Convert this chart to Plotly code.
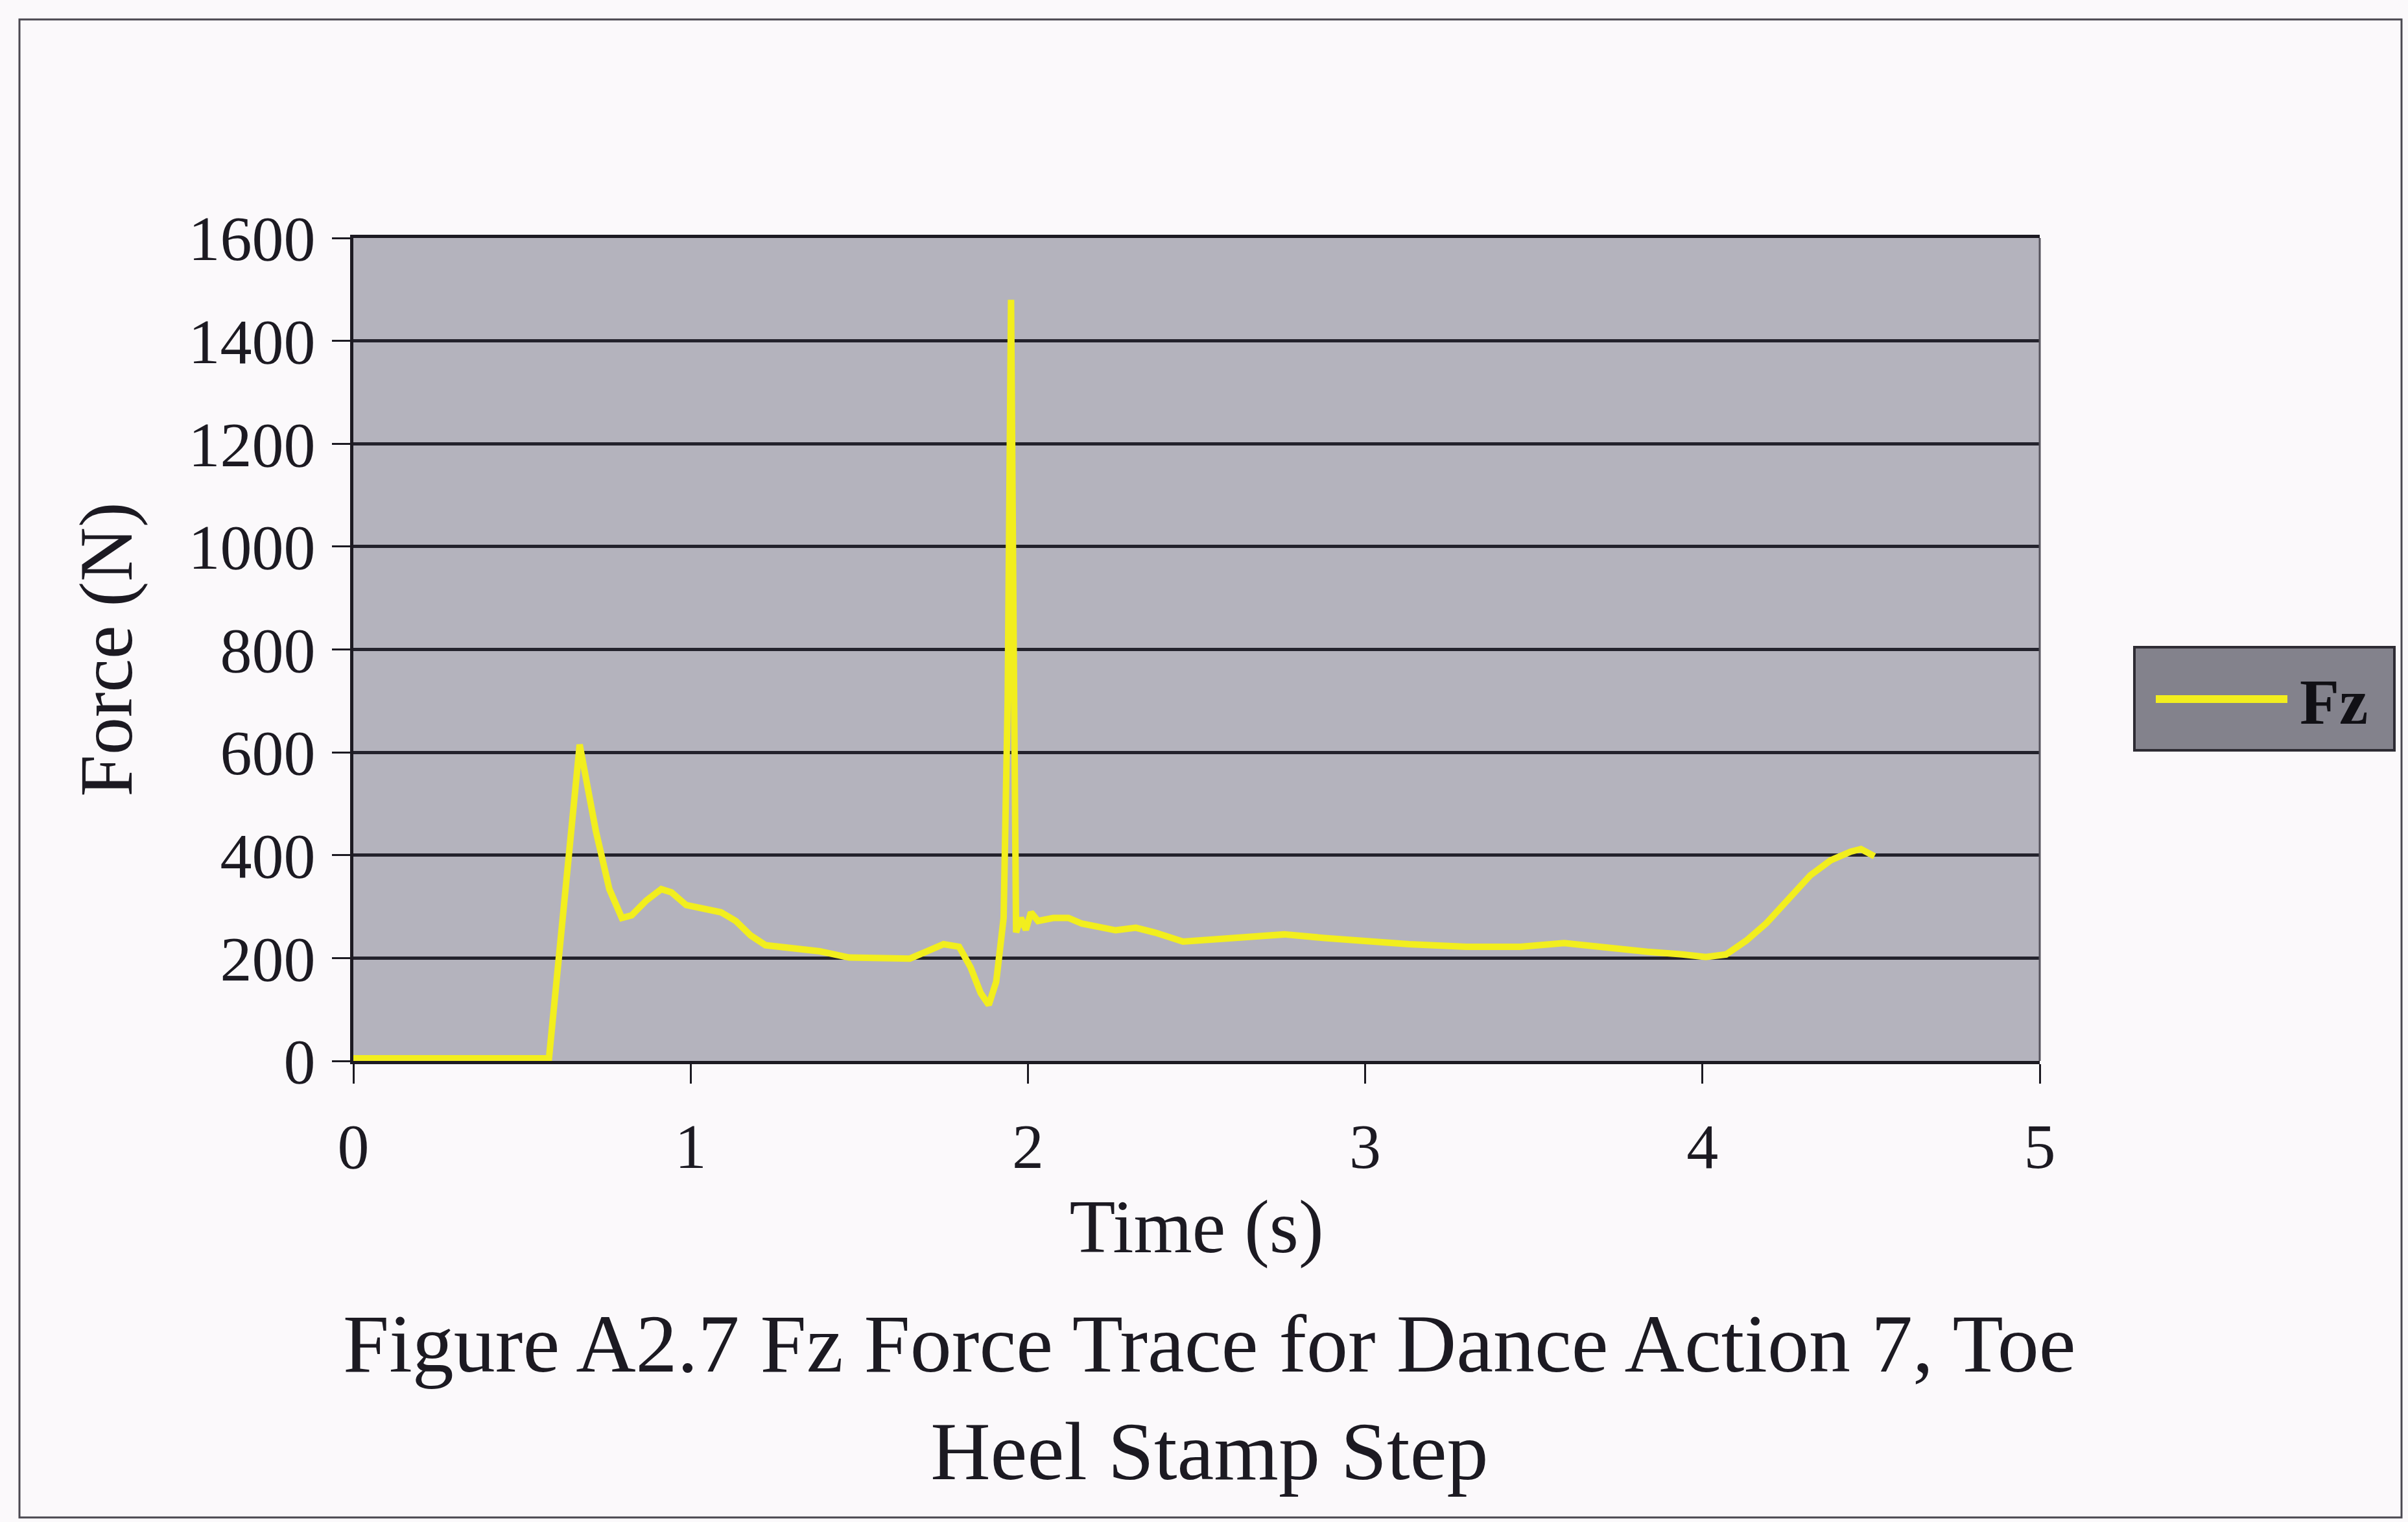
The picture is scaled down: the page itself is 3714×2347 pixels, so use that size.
import plotly.graph_objects as go

# ---- data ----
time_s = [0.0, 0.58, 0.671, 0.719, 0.759, 0.796, 0.825, 0.869, 0.913, 0.943, 0.987,
          1.046, 1.09, 1.134, 1.178, 1.222, 1.31, 1.384, 1.47, 1.56, 1.65, 1.70,
          1.75, 1.796, 1.83, 1.86, 1.884, 1.906, 1.928, 1.94, 1.95, 1.958, 1.965,
          1.979, 1.994, 2.009, 2.03, 2.075, 2.12, 2.16, 2.26, 2.32, 2.38, 2.46,
          2.55, 2.63, 2.76, 2.88, 3.01, 3.13, 3.30, 3.46, 3.59, 3.71, 3.84, 3.94,
          4.01, 4.07, 4.13, 4.19, 4.26, 4.32, 4.38, 4.44, 4.47, 4.51]
fz_n = [5, 5, 615, 447, 334, 278, 283, 312, 334, 328, 303,
        295, 289, 272, 244, 225, 219, 213, 201, 201, 199, 213,
        227, 222, 182, 132, 109, 154, 278, 700, 1480, 800, 250,
        278, 255, 289, 272, 278, 278, 267, 254, 259, 249, 232,
        237, 241, 246, 239, 232, 227, 222, 222, 229, 220, 212, 207,
        202, 207, 234, 268, 317, 361, 390, 407, 412, 398]
x_ticks = [0, 1, 2, 3, 4, 5]
y_ticks = [0, 200, 400, 600, 800, 1000, 1200, 1400, 1600]
series_name = "Fz"
x_title = "Time (s)"
y_title = "Force (N)"
caption_lines = ["Figure A2.7 Fz Force Trace for Dance Action 7, Toe", "Heel Stamp Step"]

# ---- layout geometry (pixels) ----
W, H = 3714, 2347
L, R, T, B = 545, 3146, 367, 1636
FONT = "Liberation Serif"
INK = "#1c1a22"


def px(xp):
    return (xp - L) / (R - L)


def py(yp):
    return (B - yp) / (B - T)


fig = go.Figure()
fig.add_trace(go.Scatter(x=time_s, y=fz_n, mode="lines", name=series_name,
                         line=dict(color="#f2ee1e", width=10), showlegend=False))

fig.update_layout(
    width=W, height=H,
    margin=dict(l=L, r=W - R, t=T, b=H - B, pad=0),
    paper_bgcolor="#fbf9fb",
    plot_bgcolor="#b4b3bd",
    font=dict(family=FONT, color=INK),
    xaxis=dict(range=[0, 5], tickvals=x_ticks, ticks="outside", ticklen=30,
               tickwidth=3, tickcolor=INK, showgrid=False, zeroline=False,
               showline=True, linecolor=INK, linewidth=5, mirror=True,
               tickfont=dict(size=98, family=FONT, color=INK),
               ticklabelstandoff=12,
               title=dict(text=x_title, font=dict(size=116, family=FONT, color=INK),
                          standoff=31)),
    yaxis=dict(range=[0, 1600], tickvals=y_ticks, ticks="outside", ticklen=28,
               tickwidth=3, tickcolor=INK, showgrid=True, gridcolor="#23222c",
               gridwidth=5, zeroline=False, showline=True, linecolor=INK,
               linewidth=5,
               tickfont=dict(size=98, family=FONT, color=INK),
               ticklabelstandoff=6,
               title=dict(text=y_title, font=dict(size=116, family=FONT, color=INK),
                          standoff=49)),
)

# right border of plot area (lighter)
fig.add_shape(type="line", xref="paper", yref="paper", x0=1, x1=1, y0=0, y1=1,
              line=dict(color="#55535c", width=3))

# outer frame of the figure
fig.add_shape(type="rect", xref="paper", yref="paper",
              x0=px(30), x1=px(3704), y0=py(30), y1=py(2340),
              line=dict(color="#4a4850", width=3), layer="below")

# legend box (drawn manually to match the long line sample)
fig.add_shape(type="rect", xref="paper", yref="paper",
              x0=px(3292), x1=px(3693), y0=py(1157), y1=py(998),
              fillcolor="#83828c", line=dict(color="#2e2c34", width=4))
fig.add_shape(type="line", xref="paper", yref="paper",
              x0=px(3325), x1=px(3528), y0=py(1078), y1=py(1078),
              line=dict(color="#f2ee1e", width=12))
fig.add_annotation(xref="paper", yref="paper", x=px(3545), y=py(1082),
                   xanchor="left", yanchor="middle", text="<b>" + series_name + "</b>",
                   showarrow=False, font=dict(size=100, family=FONT, color="#111015"))

# caption
fig.add_annotation(xref="paper", yref="paper", x=px(1865), y=py(2155),
                   xanchor="center", yanchor="middle",
                   text="<br>".join(caption_lines), showarrow=False,
                   font=dict(size=128, family=FONT, color=INK))

fig.write_html("out.html")
